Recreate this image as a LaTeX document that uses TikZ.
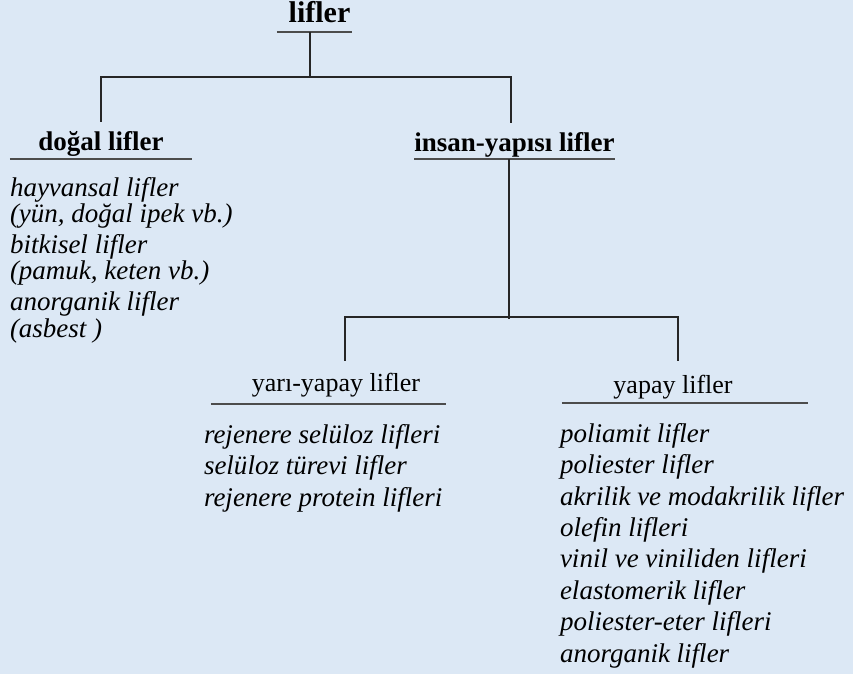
\documentclass[tikz,border=0pt]{standalone}
\usepackage{fontspec}
\setmainfont{Liberation Serif}
\usetikzlibrary{positioning}
\definecolor{panelblue}{RGB}{220,232,245}
\tikzset{
  link/.style={line width=1.1pt, draw=black!85},
  rule/.style={line width=1.7pt, draw=black!70},
  head/.style={font=\bfseries\fontsize{27}{30}\selectfont, inner sep=0pt, anchor=south, text height=29pt},
  subhead/.style={font=\fontsize{26}{30}\selectfont, inner sep=0pt, anchor=south},
  item/.style={font=\itshape\fontsize{27}{30}\selectfont, inner sep=0pt, anchor=north west, text height=19pt, text depth=7pt}
}
\begin{document}
\begin{tikzpicture}[x=1pt, y=-1pt]
  \useasboundingbox (0,0) rectangle (853,674);
  \fill[panelblue] (0,0) rectangle (853,674);

  % headings, the node bottom is the rule under the text
  \node[head, font=\bfseries\fontsize{30}{34}\selectfont, text depth=9pt, minimum width=75pt] (root) at (314.5,32) {\hspace*{10pt}lifler};
  \node[head, text depth=8pt, minimum width=182pt] (dogal) at (101,159) {doğal lifler};
  \node[head, text depth=7pt, minimum width=197pt] (insan) at (514.5,159) {insan-yapısı lifler};
  \node[subhead, text height=31pt, text depth=12pt, minimum width=235pt] (yari) at (328.5,404) {\hspace*{15pt}yarı-yapay lifler};
  \node[subhead, text height=33pt, text depth=9pt, minimum width=246pt] (yapay) at (685,403) {yapay lifler\hspace*{24pt}};

  \draw[rule] (root.south west) -- (root.south east);
  \draw[rule] (dogal.south west) -- (dogal.south east);
  \draw[rule] (insan.south west) -- (insan.south east);
  \draw[rule] (yari.south west) -- (yari.south east);
  \draw[rule] (yapay.south west) -- (yapay.south east);

  % tree
  \coordinate (top) at (310,77);
  \coordinate (split) at (509,317);
  \draw[link] (root.south -| top) -- (top);
  \draw[link] (dogal.north) |- (top) -| ([xshift=-3.5pt]insan.north);
  \draw[link] (insan.south -| split) -- ([yshift=-2pt]split);
  \draw[link] ([xshift=16.5pt]yari.north) |- (split) -| ([xshift=-7pt]yapay.north);

  % natural fibres
  \node[below=18pt of dogal.south west, item] (hayvan) {hayvansal lifler};
  \node[below=0pt of hayvan.south west, item] (hayvanex) {(yün, doğal ipek vb.)};
  \node[below=4.5pt of hayvanex.south west, item] (bitki) {bitkisel lifler};
  \node[below=0pt of bitki.south west, item] (bitkiex) {(pamuk, keten vb.)};
  \node[below=4.5pt of bitkiex.south west, item] (anorg) {anorganik lifler};
  \node[below=0pt of anorg.south west, item] (anorgex) {(asbest )};

  % semi-synthetic
  \node[below=20pt of yari.south west, xshift=-7pt, item] (rejsel) {rejenere selüloz lifleri};
  \node[below=5pt of rejsel.south west, item] (seltur) {selüloz türevi lifler};
  \node[below=5pt of seltur.south west, item] (rejpro) {rejenere protein lifleri};

  % synthetic
  \node[below=20pt of yapay.south west, xshift=-2pt, item] (poliamit) {poliamit lifler};
  \node[below=5pt of poliamit.south west, item] (poliester) {poliester lifler};
  \node[below=5pt of poliester.south west, item] (akrilik) {akrilik ve modakrilik lifler};
  \node[below=5pt of akrilik.south west, item] (olefin) {olefin lifleri};
  \node[below=5pt of olefin.south west, item] (vinil) {vinil ve viniliden lifleri};
  \node[below=5pt of vinil.south west, item] (elasto) {elastomerik lifler};
  \node[below=5pt of elasto.south west, item] (polieter) {poliester-eter lifleri};
  \node[below=5pt of polieter.south west, item] (anorgsyn) {anorganik lifler};
\end{tikzpicture}
\end{document}
